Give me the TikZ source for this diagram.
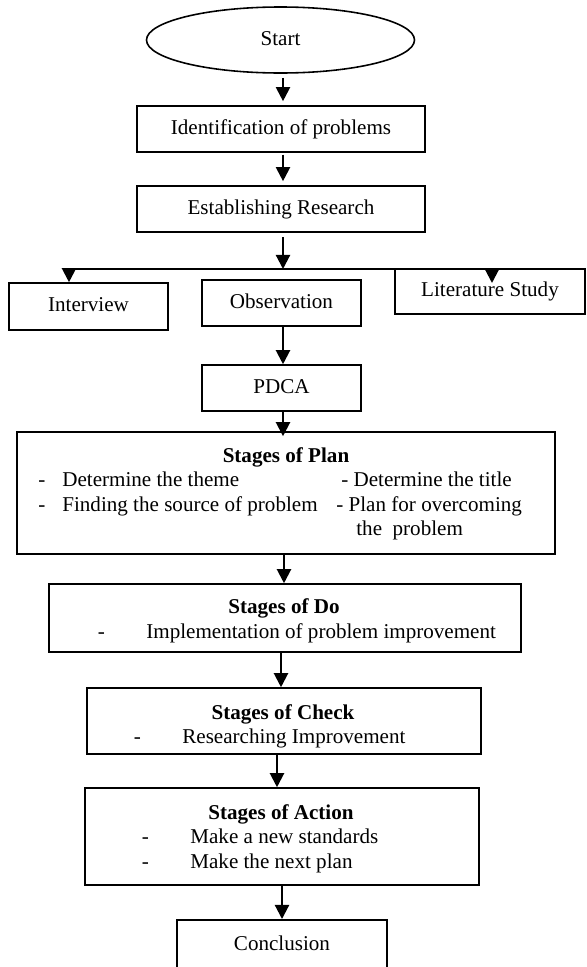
\documentclass[tikz,border=0pt]{standalone}
\usepackage{fontspec}
\setmainfont{Liberation Serif}
\usetikzlibrary{arrows.meta,shapes.geometric,calc}
\newcommand\pxu{0.02cm}
\begin{document}
\begin{tikzpicture}[x=0.02cm,y=-0.02cm,
  font=\fontsize{12}{14}\selectfont,
  box/.style={draw,line width=0.9pt,rectangle,inner sep=0pt,text height=8.5pt,text depth=2.5pt},
  startnode/.style={draw,ellipse,line width=0.9pt,inner sep=0pt,text height=8.5pt,text depth=2.5pt},
  arr/.style={line width=1.2pt,-{Triangle[width=8pt,length=8pt]}},
  txt/.style={inner sep=0pt},
  hd/.style={inner sep=0pt,font=\fontsize{12}{14}\selectfont\bfseries,anchor=base},
]
\useasboundingbox (0,0) rectangle (586,967);

% boxes
\node[startnode,minimum width=268*\pxu,minimum height=66*\pxu] (start) at (280.5,40) {Start};
\node[box,minimum width=288*\pxu,minimum height=46*\pxu] (ident) at (281,129) {Identification of problems};
\node[box,minimum width=288*\pxu,minimum height=46*\pxu] (estab) at (281,209) {Establishing Research};
\node[box,minimum width=159*\pxu,minimum height=47*\pxu] (intv) at (88.5,306.5) {Interview};
\node[box,minimum width=159*\pxu,minimum height=46*\pxu] (obs) at (281.5,303) {Observation};
\node[box,minimum width=190*\pxu,minimum height=45*\pxu] (lit) at (490,291.5) {Literature Study};
\node[box,minimum width=159*\pxu,minimum height=46*\pxu] (pdca) at (281.5,388) {PDCA};
\node[box,minimum width=538*\pxu,minimum height=122*\pxu] (plan) at (286,493) {};
\node[box,minimum width=472*\pxu,minimum height=68*\pxu] (do) at (285,618) {};
\node[box,minimum width=394*\pxu,minimum height=66*\pxu] (check) at (284,721) {};
\node[box,minimum width=394*\pxu,minimum height=97*\pxu] (action) at (282,836.5) {};
\begin{scope}
\clip (0,0) rectangle (586,967);
\node[box,minimum width=210*\pxu,minimum height=70*\pxu,anchor=north,text depth=13pt] (concl) at (282,919) {Conclusion};
\end{scope}

% texts of Plan
\node[hd] (planT) at (286,462) {Stages of Plan};
\node[txt,anchor=base] (pd1) at (42,486) {-};
\node[txt,anchor=base west] (p1) at (62,486) {Determine the theme};
\node[txt,anchor=base west] (p2) at (341,486) {- Determine the title};
\node[txt,anchor=base] (pd2) at (42,511) {-};
\node[txt,anchor=base west] (p3) at (62,511) {Finding the source of problem};
\node[txt,anchor=base west] (p4) at (336,511) {- Plan for overcoming};
\node[txt,anchor=base west] (p5) at (356,535) {the\ \ problem};

% texts of Do
\node[hd] (doT) at (284,613) {Stages of Do};
\node[txt,anchor=base] (dd) at (101.5,638) {-};
\node[txt,anchor=base west] (d1) at (146,638) {Implementation of problem improvement};

% texts of Check
\node[hd] (chT) at (283,719) {Stages of Check};
\node[txt,anchor=base] (cd) at (137.5,743) {-};
\node[txt,anchor=base west] (c1) at (182,743) {Researching Improvement};

% texts of Action
\node[hd] (acT) at (281,819) {Stages of Action};
\node[txt,anchor=base] (ad1) at (145.5,843) {-};
\node[txt,anchor=base west] (a1) at (190,843) {Make a new standards};
\node[txt,anchor=base] (ad2) at (145.5,868) {-};
\node[txt,anchor=base west] (a2) at (190,868) {Make the next plan};

% connectors
\coordinate (xs) at (283,0);
\draw[arr,shorten <=2.3pt,shorten >=2.3pt] (start.south -| xs) -- (ident.north -| xs);
\draw[arr,shorten <=1pt,shorten >=2.3pt] (ident.south -| xs) -- (estab.north -| xs);

\coordinate (jm) at (283,269);
\coordinate (jl) at (69,269);
\coordinate (jr) at (586,269);
\coordinate (jlit) at (492,269);
\draw[line width=1.2pt] (jl) -- (jr);
\draw[arr,shorten <=2.5pt] (estab.south -| jm) -- (jm);
\draw[arr] (jl) -- (jl |- intv.north);
\draw[arr] (jlit) -- ($(jlit)+(0,14)$);

\draw[arr] (obs.south -| xs) -- (pdca.north -| xs);
\draw[arr] (pdca.south -| xs) -- ($(plan.north -| xs)+(0,5)$);
\coordinate (xp) at (284,0);
\draw[arr] (plan.south -| xp) -- (do.north -| xp);
\coordinate (xc) at (281,0);
\draw[arr] (do.south -| xc) -- (check.north -| xc);
\coordinate (xa) at (277,0);
\draw[arr] (check.south -| xa) -- (action.north -| xa);
\draw[arr] (action.south -| concl.north) -- (concl.north);
\end{tikzpicture}
\end{document}
